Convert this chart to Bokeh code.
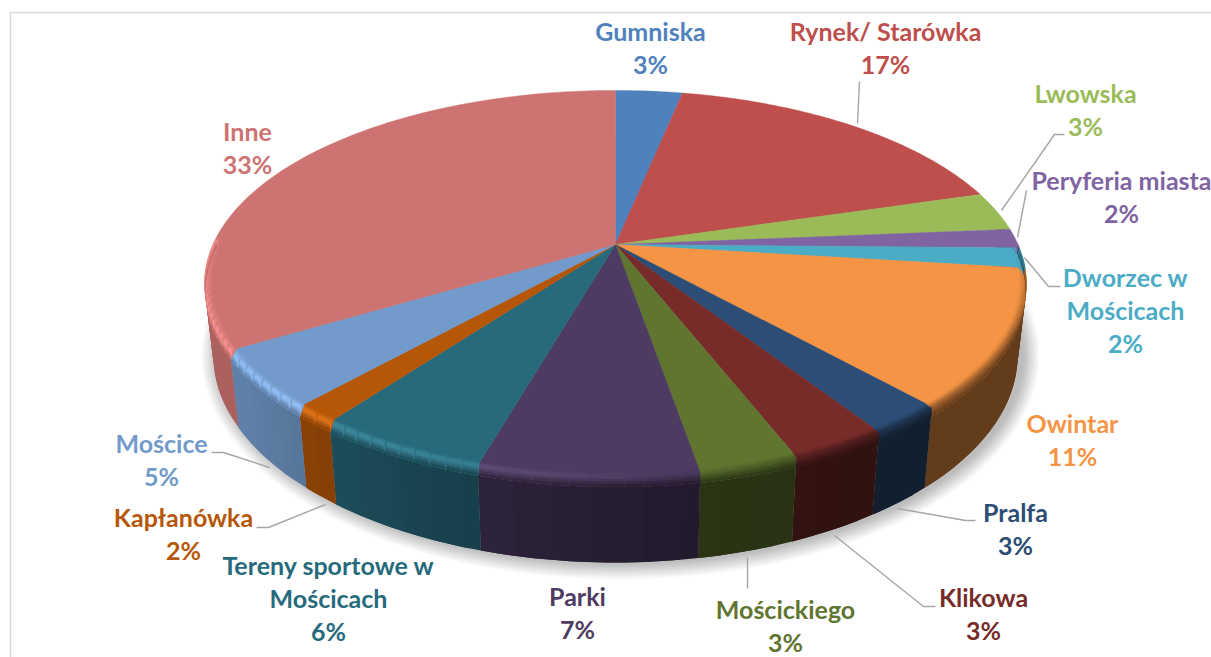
import numpy as np
from bokeh.plotting import figure
from bokeh.embed import file_html
from bokeh.resources import INLINE
from bokeh.core.properties import value

# ---- data (clockwise from 12 o'clock) ----
names = ["Gumniska", "Rynek/ Starówka", "Lwowska", "Peryferia miasta", "Dworzec w Mościcach",
         "Owintar", "Pralfa", "Klikowa", "Mościckiego", "Parki",
         "Tereny sportowe w Mościcach", "Kapłanówka", "Mościce", "Inne"]
shares = [3.2, 17.2, 3.3, 1.6, 1.7, 11.4, 2.5, 3.2, 3.25, 7.15, 5.7, 1.5, 4.8, 33.6]
percent_labels = ["3%", "17%", "3%", "2%", "2%", "11%", "3%", "3%", "3%", "7%", "6%", "2%", "5%", "33%"]

# ---- styles ----
colors = ["#4F81BD", "#BE4F4C", "#9BBB59", "#8064A2", "#4BACC6", "#F59445", "#2C4D75",
          "#772C2A", "#5F7530", "#4D3B62", "#276A7C", "#B65708", "#729ACA", "#CD7371"]
FONT = "Lato"
FONT_SIZE = "25px"
GREY = "#A6A6A6"

# ---- layout: each label's lines, centre x and line y ----
label_lines = [["Gumniska"], ["Rynek/ Starówka"], ["Lwowska"], ["Peryferia miasta"],
               ["Dworzec w", "Mościcach"], ["Owintar"], ["Pralfa"], ["Klikowa"], ["Mościckiego"],
               ["Parki"], ["Tereny sportowe w", "Mościcach"], ["Kapłanówka"], ["Mościce"], ["Inne"]]
label_x = [650, 885, 1085, 1121, 1125, 1072, 1015, 983, 785, 577, 328, 183, 161, 247]
label_y = [30, 30, 92, 179, 276, 422, 511, 596, 608, 595, 564, 516, 442, 130]
LINE_H = 33
leaders = [
    [(859, 81), (857, 123)],
    [(1064, 134), (1054, 134), (1001, 210)],
    [(1026, 190), (1017, 237)],
    [(1024, 257), (1048, 286), (1060, 286)],
    [(975, 520), (965, 520), (897, 508)],
    [(935, 606), (923, 606), (834, 535)],
    [(747, 557), (747, 588)],
    [(211, 452), (223, 452), (269, 467)],
    [(256, 527), (268, 527), (325, 504)],
]

# ---- projection of the pie disc ----
K = 0.2
def top_pt(th):
    s, c = np.sin(th), np.cos(th)
    d = 1 + 0.202 * c
    return 615 + 402.6 * s / d, 244 - 185.2 * c / d
def bot_pt(th):
    s, c = np.sin(th), np.cos(th)
    d = 1 + K * c
    return 615 + 394 * s / d, 313.6 - 198.7 * c / d
def rim_pt(th, r, dep):
    tx, ty = top_pt(th)
    tx, ty = 615 + r * (tx - 615), 244 + r * (ty - 244)
    bx, by = bot_pt(th)
    return tx + dep * (bx - tx), ty + dep * (by - ty)

def rgb(h):
    return np.array([int(h[i:i + 2], 16) for i in (1, 3, 5)], dtype=float)
def hexs(a):
    a = np.clip(np.round(a), 0, 255).astype(int)
    return "#%02x%02x%02x" % tuple(a)

def shade(deg):
    return np.interp(deg, [90, 150, 175, 200, 225, 235, 270], [.41, .40, .47, .62, .78, .83, .86])
def glow(deg):
    return np.interp(deg, [175, 190, 210, 270], [0, .6, 1, 1])
def fade(deg):
    return np.interp(deg, [90, 115, 150, 175], [.25, .6, .55, 0])

p = figure(width=1211, height=657, x_range=(0, 1211), y_range=(657, 0),
           output_backend="svg", toolbar_location=None, min_border=0,
           background_fill_color="white", border_fill_color="white", outline_line_color=None)
p.axis.visible = False
p.grid.visible = False

# frame
p.line([10, 10, 1211], [657, 12, 12], line_color="#D9D9D9", line_width=1.6)

# soft shadow
t = np.linspace(0, 2 * np.pi, 181)
for e in np.linspace(17, 1, 14):
    p.patch(620 + (402 + e) * np.sin(t), 355 + (207 + e) * np.cos(t),
            fill_color="black", fill_alpha=0.018, line_color=None)

edges = np.concatenate([[0], np.cumsum(shares)]) / sum(shares) * 2 * np.pi
STEP = 2.0

def strip_grid(a0, a1):
    n = max(1, int(np.degrees(a1 - a0) / STEP))
    g = np.linspace(a0, a1, n + 1)
    return [(g[i], g[min(i + 2, n)], (g[i] + g[i + 1]) / 2) for i in range(n)]

# side wall first
sx, sy, sc = [], [], []
for i, col in enumerate(colors):
    a0, a1 = max(edges[i], np.radians(80)), min(edges[i + 1], np.radians(285))
    if a1 <= a0:
        continue
    base = rgb(col)
    for g0, g1, gm in strip_grid(a0, a1):
        side = base * shade(np.degrees(gm))
        x0, y0 = rim_pt(np.linspace(g0, g1, 3), 1, .11)
        x1, y1 = rim_pt(np.linspace(g1, g0, 3), 1, 1)
        sx.append(list(x0) + list(x1)); sy.append(list(y0) + list(y1)); sc.append(hexs(side))
p.patches(sx, sy, fill_color=sc, line_color=None)

# top surface
for i, col in enumerate(colors):
    th = np.linspace(edges[i], edges[i + 1], max(3, int(np.degrees(edges[i + 1] - edges[i]))))
    x, y = top_pt(th)
    p.patch([615] + list(x), [244] + list(y), fill_color=col, line_color=col, line_width=0.4)

# bevel around the front edge: nested bands (radius, depth, colour position)
bands = [(.982, 0, -.85), (.988, 0, -.5), (.994, 0, -.17), (1, 0, .12), (1, .03, .37), (1, .06, .62),
         (1, .09, .87)]
END = (1, .12)
bx_, by_, bc_ = [], [], []
for i, col in enumerate(colors):
    a0, a1 = max(edges[i], np.radians(90)), min(edges[i + 1], np.radians(272))
    if a1 <= a0:
        continue
    base = rgb(col)
    for g0, g1, gm in strip_grid(a0, a1):
        deg = np.degrees(gm)
        side = base * shade(deg)
        peak = base + glow(deg) * (base * .15 + 18)
        peak = peak + (side - peak) * fade(deg)
        for r0, d0, cm in bands:
            colr = base + (peak - base) * (cm + 1) if cm < 0 else peak + (side - peak) * cm
            xa, ya = rim_pt(np.linspace(g0, g1, 3), r0, d0)
            xb, yb = rim_pt(np.linspace(g1, g0, 3), END[0], END[1])
            bx_.append(list(xa) + list(xb)); by_.append(list(ya) + list(yb)); bc_.append(hexs(colr))
p.patches(bx_, by_, fill_color=bc_, line_color=None)

# leader lines
for seg in leaders:
    p.line([q[0] for q in seg], [q[1] for q in seg], line_color=GREY, line_width=1.4)

# labels
tx, ty, tt, tc = [], [], [], []
for lines, x0, y0, pct, col in zip(label_lines, label_x, label_y, percent_labels, colors):
    rows = lines + [pct]
    for j, row in enumerate(rows):
        tx.append(x0); ty.append(y0 + j * LINE_H); tt.append(row); tc.append(col)
p.text(tx, ty, text=tt, text_color=tc, text_font=value(FONT), text_font_style="bold",
       text_font_size=FONT_SIZE, text_align="center", text_baseline="middle")

open("out.html", "w").write(file_html(p, INLINE))
